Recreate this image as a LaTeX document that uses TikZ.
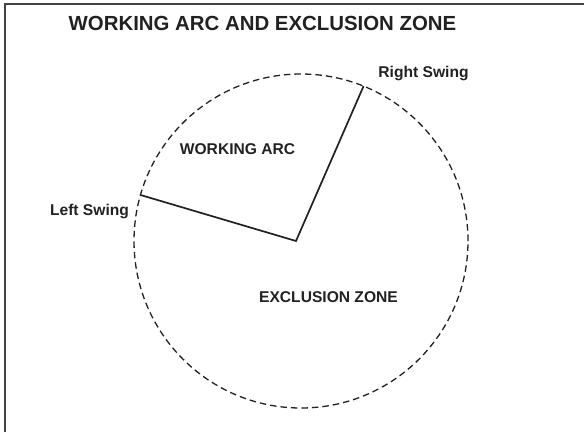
\documentclass[tikz,border=0pt]{standalone}
\usepackage{fontspec}
\setmainfont{Liberation Sans}
\usepackage{xcolor}
\usepackage{tikz}
\usetikzlibrary{positioning}
\definecolor{inkgray}{rgb}{0.13,0.13,0.13}

\begin{document}
\begin{tikzpicture}[
  x=1pt, y=-1pt,
  frame/.style={draw=inkgray!85, line width=1.5pt},
  zonecircle/.style={circle, draw=inkgray, dash pattern=on 6.5pt off 4pt,
                     line width=1.3pt, minimum size=334pt, inner sep=0pt, outer sep=0pt},
  swing/.style={draw=inkgray, line width=1.7pt},
  lbl/.style={font=\bfseries\fontsize{15.6}{18}\selectfont, text=inkgray, inner sep=0pt},
  ttl/.style={font=\bfseries\fontsize{20.4}{24}\selectfont, text=inkgray, inner sep=0pt}
]
\useasboundingbox (0,0) rectangle (585,432);
\coordinate (frametl) at (5,4);
\coordinate (framebl) at (5,432);
\coordinate (frametr) at (584,4);
\draw[frame] (framebl) -- (frametl) -- (frametr);

\node[ttl] (title) at (262.5,23) {WORKING ARC AND EXCLUSION ZONE};

\node[zonecircle] (zone) at (301,241) {};
\coordinate (pivot) at (296,241);
\coordinate (leftend) at (zone.164.7);
\coordinate (rightend) at (zone.68.4);

\draw[swing] (leftend) -- (pivot) -- (rightend);

\node[lbl] (rightlbl) at (423.5,73) {Right Swing};
\node[lbl] (leftlbl) at (89.5,211) {Left Swing};
\node[lbl] (arclbl) at (237.5,149) {WORKING ARC};
\node[lbl] (exclbl) at (328.5,297) {EXCLUSION ZONE};
\end{tikzpicture}
\end{document}
